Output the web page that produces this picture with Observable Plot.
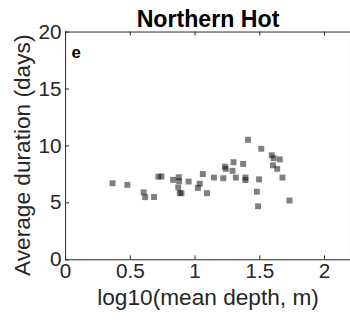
<!DOCTYPE html>
<html>
<head>
<meta charset="utf-8">
<script src="https://cdn.jsdelivr.net/npm/d3@7"></script>
<script src="https://cdn.jsdelivr.net/npm/@observablehq/plot@0.6"></script>
<style>
  html, body { margin: 0; padding: 0; background: #fff; overflow: hidden; }
  #chart { width: 350px; height: 324px; overflow: hidden; }
</style>
</head>
<body>
<div id="chart"></div>
<script>
const title = "Northern Hot";
const panelLetter = "e";
const xLabel = "log10(mean depth, m)";
const yLabel = "Average duration (days)";

const logDepth = [0.363, 0.477, 0.603, 0.615, 0.683, 0.717, 0.740, 0.830, 0.874, 0.877,
  0.870, 0.882, 0.895, 0.950, 1.022, 1.036, 1.060, 1.092, 1.146, 1.218,
  1.230, 1.237, 1.289, 1.297, 1.315, 1.371, 1.389, 1.389, 1.409, 1.477,
  1.486, 1.494, 1.511, 1.592, 1.607, 1.601, 1.634, 1.654, 1.675, 1.729];
const avgDuration = [6.72, 6.58, 5.92, 5.50, 5.51, 7.30, 7.32, 7.02, 7.25, 6.90,
  6.35, 5.86, 5.84, 6.87, 6.31, 6.68, 7.53, 5.85, 7.22, 7.16,
  8.18, 7.98, 7.81, 8.57, 7.22, 8.42, 7.22, 7.00, 10.54, 5.98,
  4.70, 7.06, 9.75, 9.18, 8.92, 8.30, 7.99, 8.82, 7.22, 5.20];

const xTicks = [0, 0.5, 1, 1.5, 2];
const xTickLabels = ["0", "0.5", "1", "1.5", "2"];
const yTicks = [0, 5, 10, 15, 20];
const yTickLabels = ["0", "5", "10", "15", "20"];

const points = logDepth.map((x, i) => ({x, y: avgDuration[i]}));
const xLabMap = new Map(xTicks.map((t, i) => [t, xTickLabels[i]]));
const yLabMap = new Map(yTicks.map((t, i) => [t, yTickLabels[i]]));

const W = 355, H = 324;
const mL = 66, mR = 0, mT = 32, mB = 61;
const fw = W - mL - mR, fh = H - mT - mB;
const axisColor = "#262626";
const font = "'Liberation Sans', Arial, Helvetica, sans-serif";

const chart = Plot.plot({
  width: W,
  height: H,
  marginLeft: mL,
  marginRight: mR,
  marginTop: mT,
  marginBottom: mB,
  style: {fontFamily: font, color: axisColor, background: "#fff"},
  x: {domain: [0, 2.2]},
  y: {domain: [0, 20]},
  marks: [
    Plot.dot(points, {x: "x", y: "y", symbol: "square", r: 3.4, fill: "#000", fillOpacity: 0.5, stroke: "none"}),
    Plot.frame({stroke: axisColor, strokeWidth: 1}),
    Plot.tickX(xTicks, {x: d => d, insetTop: fh - 4, stroke: axisColor}),
    Plot.tickX(xTicks, {x: d => d, insetBottom: fh - 4, stroke: axisColor}),
    Plot.tickY(yTicks, {y: d => d, insetRight: fw - 4, stroke: axisColor}),
    Plot.axisX(xTicks, {tickSize: 0, tickPadding: 4, fontSize: 21, tickFormat: d => xLabMap.get(d), label: null, fill: axisColor}),
    Plot.axisY(yTicks, {tickSize: 0, tickPadding: 4, fontSize: 21, tickFormat: d => yLabMap.get(d), label: null, fill: axisColor}),
    Plot.text([xLabel], {frameAnchor: "bottom", lineAnchor: "middle", dy: 38, fontSize: 23, fill: axisColor}),
    Plot.text([yLabel], {frameAnchor: "left", textAnchor: "middle", lineAnchor: "middle", rotate: -90, dx: -43.4, dy: 9.5, fontSize: 23, fill: axisColor}),
    Plot.text([title], {frameAnchor: "top", lineAnchor: "middle", dy: -12.8, fontSize: 23.5, fontWeight: "bold", fill: "#000"}),
    Plot.text([panelLetter], {frameAnchor: "top-left", textAnchor: "start", lineAnchor: "middle", dx: 6, dy: 21, fontSize: 17, fontWeight: "bold", fill: "#000"})
  ]
});
document.getElementById("chart").appendChild(chart);
</script>
</body>
</html>
